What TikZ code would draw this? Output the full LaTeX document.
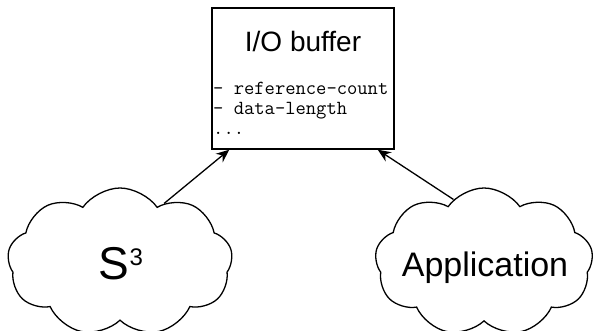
\documentclass[tikz,border=0pt]{standalone}
\usepackage{fontspec}
\setsansfont{Liberation Sans}
\usetikzlibrary{shapes.symbols,arrows.meta,positioning}

\begin{document}
\begin{tikzpicture}[x=1pt,y=-1pt,
    bufbox/.style={draw,line width=1.5pt,minimum width=182pt,minimum height=141pt,inner sep=0pt},
    blob/.style={cloud,cloud puffs=9,cloud puff arc=110,aspect=1.6,draw,line width=1.3pt,inner sep=0pt},
    field/.style={anchor=base west,inner sep=0pt,font=\ttfamily\fontsize{20}{20}\selectfont},
    link/.style={-{Stealth[length=13pt,width=11pt]},line width=1.3pt}]
    \useasboundingbox (0,0) rectangle (595,331);
    \node [bufbox] (buf) at (303,78.5) {};
    \node [anchor=base,inner sep=0pt,font=\sffamily\fontsize{28}{30}\selectfont] (title) at (303,52) {I/O buffer};
    \node [field] (f1) at (213,95) {- reference-count};
    \node [field] (f2) at (213,115) {- data-length};
    \node [field] (f3) at (213,135) {...};
    % clouds and their labels
    \node [blob,minimum width=225pt,minimum height=148pt] (s3) at (120,262) {};
    \node [blob,minimum width=218pt,minimum height=148pt] (app) at (484,262) {};
    \node [inner sep=0pt,font=\sffamily\fontsize{46}{50}\selectfont] (s3txt) at (121,264) {S\raisebox{14pt}{\fontsize{24}{24}\selectfont 3}};
    \node [anchor=base,inner sep=0pt,font=\sffamily\fontsize{34}{40}\selectfont] (apptxt) at (485,277) {Application};
    \draw [link] (s3.53) -- ([xshift=18pt]buf.south west);
    \draw [link] (app.116) -- ([xshift=-17pt]buf.south east);
\end{tikzpicture}
\end{document}
